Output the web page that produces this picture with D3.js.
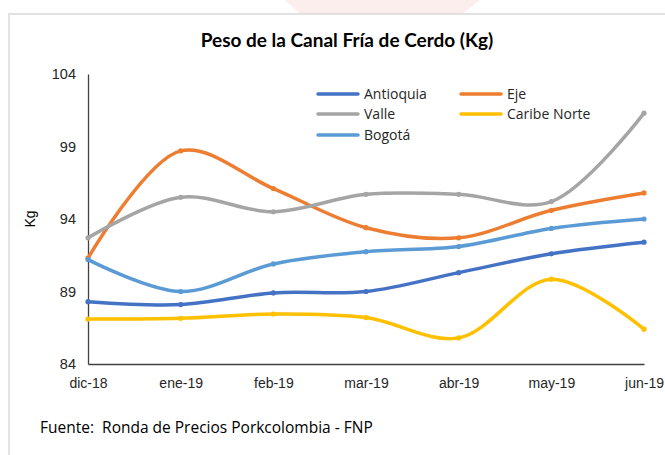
<!DOCTYPE html>
<html>
<head>
<meta charset="utf-8">
<script src="https://cdn.jsdelivr.net/npm/d3@7"></script>
<style>
  html, body { margin: 0; padding: 0; background: #fff; }
  svg { display: block; }
</style>
</head>
<body>
<svg id="chart" width="665" height="455"></svg>
<script>
const categories = ["dic-18", "ene-19", "feb-19", "mar-19", "abr-19", "may-19", "jun-19"];
const antioquia = [88.3, 88.1, 88.9, 89.0, 90.3, 91.6, 92.4];
const eje = [91.3, 98.7, 96.1, 93.4, 92.7, 94.6, 95.8];
const valle = [92.7, 95.5, 94.5, 95.7, 95.7, 95.2, 101.3];
const caribeNorte = [87.1, 87.15, 87.45, 87.2, 85.8, 89.85, 86.4];
const bogota = [91.2, 89.0, 90.9, 91.75, 92.1, 93.35, 94.0];
const yTicks = [84, 89, 94, 99, 104];
const title = "Peso de la Canal Fría de Cerdo (Kg)";
const yLabel = "Kg";
const source = "Fuente:  Ronda de Precios Porkcolombia - FNP";

const series = [
  { name: "Antioquia", values: antioquia, color: "#4472C4" },
  { name: "Eje", values: eje, color: "#ED7D31" },
  { name: "Valle", values: valle, color: "#A5A5A5" },
  { name: "Caribe Norte", values: caribeNorte, color: "#FFC000" },
  { name: "Bogotá", values: bogota, color: "#5B9BD5" }
];

const svg = d3.select("#chart");

// faint watermark at top
svg.append("path")
  .attr("d", "M285,0 L480,0 L462,14 L300,14 Z")
  .attr("fill", "#fdeeee");

// frame
svg.append("path")
  .attr("d", "M9,455 L9,14 L665,14")
  .attr("fill", "none")
  .attr("stroke", "#d9d9d9")
  .attr("stroke-width", 1.5);

const x = d3.scalePoint().domain(categories).range([88, 644]);
const y = d3.scaleLinear().domain([84, 104]).range([364, 74]);

// title
svg.append("text")
  .attr("x", 347).attr("y", 47)
  .attr("text-anchor", "middle")
  .attr("font-family", "Lato, 'Liberation Sans', sans-serif")
  .attr("font-weight", "bold")
  .attr("font-size", 19)
  .attr("fill", "#000")
  .text(title);

// y axis
const yAxis = d3.axisLeft(y).tickValues(yTicks).tickSize(0).tickPadding(12);
const gy = svg.append("g").attr("transform", "translate(88,0)").call(yAxis);
gy.select(".domain").attr("stroke", "#404040").attr("stroke-width", 1.3);
gy.selectAll("text")
  .attr("font-family", "'Liberation Sans', Arial, sans-serif")
  .attr("font-size", 14.5)
  .attr("fill", "#262626");

// x axis
const xAxis = d3.axisBottom(x).tickSize(0).tickPadding(14);
const gx = svg.append("g").attr("transform", "translate(0,364)").call(xAxis);
gx.select(".domain").attr("stroke", "#404040").attr("stroke-width", 1.3);
gx.selectAll("text")
  .attr("font-family", "'Liberation Sans', Arial, sans-serif")
  .attr("font-size", 14)
  .attr("fill", "#262626");

// y label
svg.append("text")
  .attr("transform", "translate(35,219) rotate(-90)")
  .attr("text-anchor", "middle")
  .attr("font-family", "'Liberation Sans', Arial, sans-serif")
  .attr("font-size", 14)
  .attr("fill", "#000")
  .text(yLabel);

// lines
const line = d3.line()
  .x((d, i) => x(categories[i]))
  .y(d => y(d))
  .curve(d3.curveCatmullRom.alpha(0.5));

const gLines = svg.append("g");
series.forEach(s => {
  gLines.append("path")
    .datum(s.values)
    .attr("d", line)
    .attr("fill", "none")
    .attr("stroke", s.color)
    .attr("stroke-width", 3.5)
    .attr("stroke-linecap", "round");
  gLines.selectAll(null)
    .data(s.values)
    .enter().append("circle")
    .attr("cx", (d, i) => x(categories[i]))
    .attr("cy", d => y(d))
    .attr("r", 2.6)
    .attr("fill", s.color);
});

// legend
const legendPos = [
  { x: 318, y: 94 }, { x: 461, y: 94 },
  { x: 318, y: 114 }, { x: 461, y: 114 },
  { x: 318, y: 135 }
];
const lg = svg.append("g");
series.forEach((s, i) => {
  const p = legendPos[i];
  lg.append("line")
    .attr("x1", p.x).attr("x2", p.x + 40)
    .attr("y1", p.y).attr("y2", p.y)
    .attr("stroke", s.color).attr("stroke-width", 3.5)
    .attr("stroke-linecap", "round");
  lg.append("text")
    .attr("x", p.x + 46).attr("y", p.y + 5)
    .attr("font-family", "'Open Sans', sans-serif")
    .attr("font-size", 14)
    .attr("fill", "#262626")
    .text(s.name);
});

// source
svg.append("text")
  .attr("x", 40).attr("y", 433)
  .attr("font-family", "'Open Sans', sans-serif")
  .attr("font-size", 15.5)
  .attr("fill", "#000")
  .attr("xml:space", "preserve")
  .style("white-space", "pre")
  .text(source);
</script>
</body>
</html>
